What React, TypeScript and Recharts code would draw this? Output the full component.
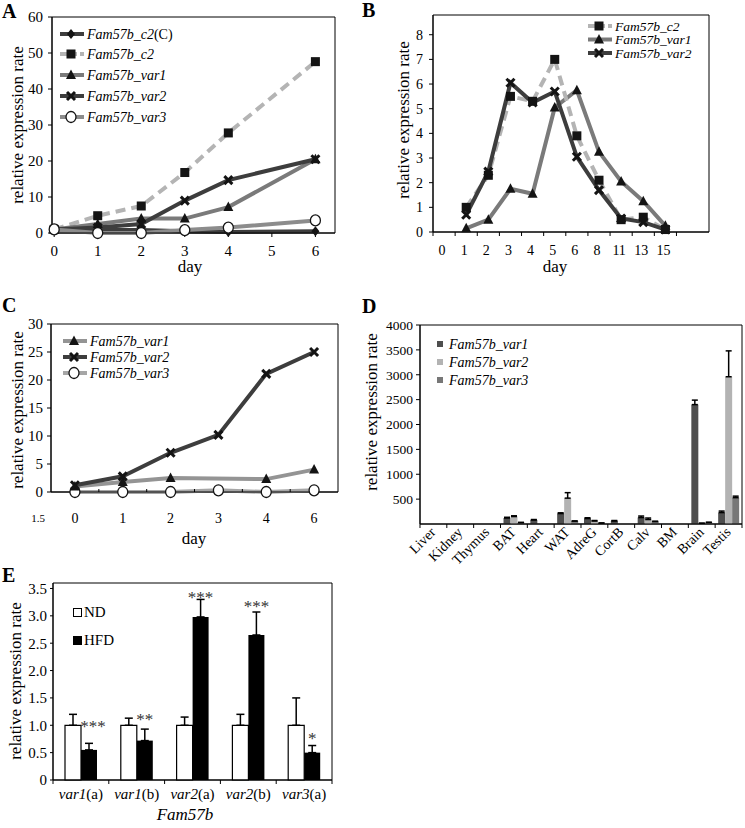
import React from "react";
import { LineChart, Line, BarChart, Bar, ErrorBar, LabelList, XAxis, YAxis, ReferenceArea } from "recharts";

const FONT = "'Liberation Serif', 'Times New Roman', serif";

// ---- panel A: time course, days 0..6
const aDays = [0, 1, 2, 3, 4, 6];
const aC2C = [1, 0.8, 0.8, 0.5, 0.3, 0.5];
const aC2 = [1, 4.8, 7.5, 16.8, 27.8, 47.6];
const aVar1 = [1, 2.5, 4, 4, 7.2, 20.5];
const aVar2 = [1, 1.5, 2.5, 9, 14.7, 20.5];
const aVar3 = [1, 0, 0, 0.8, 1.5, 3.5];

// ---- panel B: categorical days
const bDays = ["0", "1", "2", "3", "4", "5", "6", "8", "11", "13", "15"];
const bC2 = [null, 1.0, 2.3, 5.5, 5.3, 7.0, 3.9, 2.1, 0.5, 0.6, 0.1];
const bVar1 = [null, 0.15, 0.5, 1.75, 1.55, 5.05, 5.75, 3.25, 2.05, 1.25, 0.25];
const bVar2 = [null, 0.7, 2.45, 6.05, 5.25, 5.7, 3.05, 1.7, 0.55, 0.4, 0.1];

// ---- panel C
const cDays = ["0", "1", "2", "3", "4", "6"];
const cVar1 = [1.0, 1.8, 2.5, null, 2.3, 4.0];
const cVar2 = [1.2, 2.8, 7.0, 10.2, 21.1, 25.0];
const cVar3 = [0, 0, 0, 0.3, 0, 0.3];

// ---- panel D: tissues
const tissues = ["Liver", "Kidney", "Thymus", "BAT", "Heart", "WAT", "AdreG", "CortB", "Calv", "BM", "Brain", "Testis"];
const dVar1 = [0, 0, 0, 120, 80, 210, 110, 60, 130, 0, 2400, 230];
const dVar1Err = [0, 0, 0, 15, 10, 15, 15, 10, 30, 0, 90, 30];
const dVar2 = [0, 0, 0, 150, 0, 520, 60, 0, 90, 0, 15, 2960];
const dVar2Err = [0, 0, 0, 15, 0, 110, 10, 0, 30, 0, 0, 520];
const dVar3 = [0, 0, 0, 30, 0, 60, 20, 0, 50, 0, 30, 530];
const dVar3Err = [0, 0, 0, 0, 0, 0, 0, 0, 5, 0, 5, 30];

// ---- panel E: ND vs HFD
const eGroups = ["var1(a)", "var1(b)", "var2(a)", "var2(b)", "var3(a)"];
const eND = [1, 1, 1, 1, 1];
const eNDErr = [0.2, 0.13, 0.15, 0.2, 0.5];
const eHFD = [0.55, 0.72, 2.98, 2.65, 0.5];
const eHFDErr = [0.12, 0.21, 0.32, 0.42, 0.13];
const eStars = ["***", "**", "***", "***", "*"];
const eStarLevel = [1.06, 1.19, 3.41, 3.25, 0.84];

const DARK = "#3d3d3d";
const MID = "#7a7a7a";
const LIGHT = "#b4b4b4";
const GREY3 = "#8c8c8c";
const MK = "#141414";

const tickStyle = { fill: "#000", fontSize: 14, fontFamily: FONT };
const serif = { fontFamily: FONT };

function marker(kind: string, cx: number, cy: number, key?: string) {
  switch (kind) {
    case "diamond":
      return <polygon key={key} points={`${cx},${cy - 5} ${cx + 4},${cy} ${cx},${cy + 5} ${cx - 4},${cy}`} fill={MK} />;
    case "square":
      return <rect key={key} x={cx - 4.5} y={cy - 4.5} width={9} height={9} fill={MK} />;
    case "triangle":
      return <polygon key={key} points={`${cx},${cy - 5.5} ${cx + 5},${cy + 4} ${cx - 5},${cy + 4}`} fill={MK} />;
    case "cross":
      return (
        <path key={key} d={`M${cx - 4},${cy - 4}L${cx + 4},${cy + 4}M${cx + 4},${cy - 4}L${cx - 4},${cy + 4}`} stroke={MK} strokeWidth={3} />
      );
    default:
      return <ellipse key={key} cx={cx} cy={cy} rx={5} ry={5.5} fill="#fff" stroke={MK} strokeWidth={1.3} />;
  }
}

const dotOf = (kind: string) => (p: any) => {
  if (p.cx == null || p.cy == null || p.value == null) return <g key={`e-${kind}-${p.index}`} />;
  return marker(kind, p.cx, p.cy, `${kind}-${p.index}`);
};

const dataA = aDays.map((d, i) => ({ day: d, c2c: aC2C[i], c2: aC2[i], var1: aVar1[i], var2: aVar2[i], var3: aVar3[i] }));
const dataB = bDays.map((d, i) => ({ i, c2: bC2[i], var1: bVar1[i], var2: bVar2[i] }));
const dataC = cDays.map((d, i) => ({ i, var1: cVar1[i], var2: cVar2[i], var3: cVar3[i] }));
const dataD = tissues.map((t, i) => ({
  t,
  var1: dVar1[i], e1: [0, dVar1Err[i]],
  var2: dVar2[i], e2: [0, dVar2Err[i]],
  var3: dVar3[i], e3: [0, dVar3Err[i]],
}));
const dataE = eGroups.map((g, i) => ({ g, nd: eND[i], ndErr: [0, eNDErr[i]], hfd: eHFD[i], hfdErr: [0, eHFDErr[i]], stars: eStars[i] }));

// closes the plot box (x unset -> full width)
const frame = (top: number) => (
  <ReferenceArea y1={0} y2={top} fill="none" stroke="#000" strokeWidth={1} fillOpacity={0} ifOverflow="visible" />
);

const B_UNIT = 276 / 12.47;
const C_UNIT = 287.3 / 6;
const D_BAND = 322.3 / 12;
const E_BAND = 279 / 5;

const BTick = (p: any) => {
  const i = p.payload.value;
  const ay = p.y - 13;
  const bx = p.x - B_UNIT / 2;
  return (
    <g key={`bt-${i}`}>
      <line x1={bx} x2={bx} y1={ay} y2={ay + 4} stroke="#000" />
      {i < bDays.length && (
        <text x={p.x - 2} y={ay + 13} dy="0.71em" textAnchor="middle" {...tickStyle}>
          {bDays[i]}
        </text>
      )}
    </g>
  );
};

const CTick = (p: any) => {
  const i = p.payload.value;
  const ay = p.y - 21;
  const bx = p.x + C_UNIT / 2;
  return (
    <g key={`ct-${i}`}>
      {i < cDays.length - 1 && <line x1={bx} x2={bx} y1={ay} y2={ay - 3} stroke="#000" />}
      <text x={p.x} y={ay + 21} dy="0.71em" textAnchor="middle" {...tickStyle}>
        {cDays[i]}
      </text>
    </g>
  );
};

const DTick = (p: any) => {
  const ay = p.y - 2;
  const idx = tissues.indexOf(p.payload.value);
  const bx = p.x - D_BAND / 2;
  return (
    <g key={`dt-${p.payload.value}`}>
      <line x1={bx} x2={bx} y1={ay} y2={ay + 4} stroke="#000" />
      {idx === tissues.length - 1 && <line x1={p.x + D_BAND / 2} x2={p.x + D_BAND / 2} y1={ay} y2={ay + 4} stroke="#000" />}
      <text x={p.x + 3} y={ay + 9} textAnchor="end" transform={`rotate(-45 ${p.x + 3} ${ay + 9})`} fill="#000" fontSize={14} style={serif}>
        {p.payload.value}
      </text>
    </g>
  );
};

const ETick = (p: any) => {
  const v: string = p.payload.value;
  const ay = p.y - 2;
  const k = v.indexOf("(");
  const bx = p.x - E_BAND / 2;
  const last = v === eGroups[eGroups.length - 1];
  return (
    <g key={`et-${v}`}>
      <line x1={bx} x2={bx} y1={ay} y2={ay + 4} stroke="#000" />
      {last && <line x1={p.x + E_BAND / 2} x2={p.x + E_BAND / 2} y1={ay} y2={ay + 4} stroke="#000" />}
      <text x={p.x} y={ay + 8} dy="0.71em" textAnchor="middle" fill="#000" fontSize={15} style={serif}>
        <tspan fontStyle="italic">{v.slice(0, k)}</tspan>
        <tspan>{v.slice(k)}</tspan>
      </text>
    </g>
  );
};

const StarLabel = (p: any) => {
  const i = p.index;
  if (i == null) return null;
  const per = p.height / eHFD[i];
  const base = p.y + p.height;
  const sy = base - eStarLevel[i] * per;
  return (
    <text key={`st-${i}`} x={p.x + p.width / 2 + (i === 0 ? 4 : 0)} y={sy + 10} textAnchor="middle" fill="#333" fontSize={17} style={serif}>
      {eStars[i]}
    </text>
  );
};

function LineKey({ x, y, color, dashed, kind, children, size = 14 }: any) {
  return (
    <g>
      <line x1={x} x2={x + 24} y1={y} y2={y} stroke={color} strokeWidth={4} strokeDasharray={dashed ? "7 3" : undefined} />
      {marker(kind, x + 11, y)}
      <text x={x + 27} y={y} dy="0.35em" fontSize={size} fontStyle="italic" fill="#000" style={serif}>
        {children}
      </text>
    </g>
  );
}

const abs = (left: number, top: number): React.CSSProperties => ({ position: "absolute", left, top });

export default function App() {
  return (
    <div style={{ position: "absolute", left: 0, top: 0, width: 745, height: 828, background: "#fff", fontFamily: FONT }}>
      {/* A */}
      <div style={abs(0, 0)}>
        <LineChart width={370} height={280} data={dataA} margin={{ top: 17, right: 35, bottom: 0, left: 0 }}>
          <XAxis dataKey="day" type="number" domain={[-0.05, 6.45]} ticks={[0, 1, 2, 3, 4, 5, 6]} interval={0} height={47} tickSize={4} tickMargin={8} stroke="#000" tick={{ ...tickStyle, fontSize: 15 }} />
          <YAxis domain={[0, 60]} ticks={[0, 10, 20, 30, 40, 50, 60]} width={52} tickSize={4} tickMargin={5} stroke="#000" tick={{ ...tickStyle, fontSize: 15 }} />
          {frame(60)}
          <Line dataKey="c2" stroke={LIGHT} strokeWidth={4} strokeDasharray="10 6" dot={dotOf("square")} isAnimationActive={false} />
          <Line dataKey="var1" stroke={MID} strokeWidth={4} dot={dotOf("triangle")} isAnimationActive={false} />
          <Line dataKey="var2" stroke={DARK} strokeWidth={4} dot={dotOf("cross")} isAnimationActive={false} />
          <Line dataKey="c2c" stroke={DARK} strokeWidth={4} dot={dotOf("diamond")} isAnimationActive={false} />
          <Line dataKey="var3" stroke={GREY3} strokeWidth={4} dot={dotOf("circle")} isAnimationActive={false} />
        </LineChart>
      </div>

      {/* B */}
      <div style={abs(370, 0)}>
        <LineChart width={375} height={280} data={dataB} margin={{ top: 15, right: 36, bottom: 0, left: 0 }}>
          <XAxis dataKey="i" type="number" domain={[-0.5, 11.97]} ticks={[0, 1, 2, 3, 4, 5, 6, 7, 8, 9, 10, 11]} interval={0} height={48} tickSize={0} tickMargin={13} stroke="#000" tick={BTick} />
          <YAxis domain={[0, 8.8]} ticks={[0, 1, 2, 3, 4, 5, 6, 7, 8]} width={63} tickSize={4} tickMargin={6} stroke="#000" tick={tickStyle} />
          {frame(8.8)}
          <Line dataKey="var1" stroke={MID} strokeWidth={4} dot={dotOf("triangle")} isAnimationActive={false} />
          <Line dataKey="c2" stroke={LIGHT} strokeWidth={4} strokeDasharray="10 6" dot={dotOf("square")} isAnimationActive={false} />
          <Line dataKey="var2" stroke={DARK} strokeWidth={4} dot={dotOf("cross")} isAnimationActive={false} />
        </LineChart>
      </div>

      {/* C */}
      <div style={abs(0, 280)}>
        <LineChart width={370} height={270} data={dataC} margin={{ top: 44, right: 32, bottom: 0, left: 0 }}>
          <XAxis dataKey="i" type="number" domain={[-0.5, 5.5]} ticks={[0, 1, 2, 3, 4, 5]} interval={0} height={58} tickSize={0} tickMargin={21} stroke="#000" tick={CTick} />
          <YAxis domain={[0, 30]} ticks={[0, 5, 10, 15, 20, 25, 30]} width={51} tickSize={4} tickMargin={4} stroke="#000" tick={{ ...tickStyle, fontSize: 15 }} />
          {frame(30)}
          <Line dataKey="var3" stroke="#a6a6a6" strokeWidth={4} dot={dotOf("circle")} isAnimationActive={false} />
          <Line dataKey="var1" stroke="#949494" strokeWidth={4} connectNulls dot={dotOf("triangle")} isAnimationActive={false} />
          <Line dataKey="var2" stroke={DARK} strokeWidth={4} dot={dotOf("cross")} isAnimationActive={false} />
        </LineChart>
      </div>

      {/* D */}
      <div style={abs(370, 280)}>
        <BarChart width={375} height={300} data={dataD} margin={{ top: 45, right: 3, bottom: 0, left: 0 }} barGap={0}>
          <XAxis dataKey="t" interval={0} height={56} tickSize={0} tickMargin={2} stroke="#000" tick={DTick} />
          <YAxis domain={[0, 4000]} ticks={[500, 1000, 1500, 2000, 2500, 3000, 3500, 4000]} width={50} tickSize={4} tickMargin={3} stroke="#000" tick={{ ...tickStyle, fontSize: 13.5 }} />
          {frame(4000)}
          <Bar dataKey="var1" fill="#4e4e4e" barSize={7} isAnimationActive={false}>
            <ErrorBar dataKey="e1" width={3} stroke="#000" strokeWidth={1.5} />
          </Bar>
          <Bar dataKey="var2" fill="#b3b3b3" barSize={7} isAnimationActive={false}>
            <ErrorBar dataKey="e2" width={3} stroke="#000" strokeWidth={1.5} />
          </Bar>
          <Bar dataKey="var3" fill="#777777" barSize={7} isAnimationActive={false}>
            <ErrorBar dataKey="e3" width={3} stroke="#000" strokeWidth={1.5} />
          </Bar>
        </BarChart>
      </div>

      {/* E */}
      <div style={abs(0, 550)}>
        <BarChart width={370} height={278} data={dataE} margin={{ top: 33, right: 38, bottom: 0, left: 0 }} barGap={0}>
          <XAxis dataKey="g" interval={0} height={48} tickSize={0} tickMargin={2} stroke="#000" tick={ETick} />
          <YAxis domain={[0, 3.6]} ticks={[0, 0.5, 1, 1.5, 2, 2.5, 3, 3.5]} tickFormatter={(v: number) => (v === 0 ? "0" : v.toFixed(1))} width={53} tickSize={3} tickMargin={3} stroke="#000" tick={{ ...tickStyle, fontSize: 15 }} />
          {frame(3.6)}
          <Bar dataKey="nd" fill="#fff" stroke="#000" strokeWidth={1.2} barSize={16} isAnimationActive={false}>
            <ErrorBar dataKey="ndErr" width={4} stroke="#000" strokeWidth={1.5} />
          </Bar>
          <Bar dataKey="hfd" fill="#000" barSize={16} isAnimationActive={false}>
            <ErrorBar dataKey="hfdErr" width={4} stroke="#000" strokeWidth={1.5} />
            <LabelList dataKey="stars" content={StarLabel} />
          </Bar>
        </BarChart>
      </div>

      {/* titles, panel letters and legends */}
      <svg width={745} height={828} style={{ position: "absolute", left: 0, top: 0, pointerEvents: "none", fontFamily: FONT }}>
        <g fontWeight="bold" fontSize={20} fill="#000" style={serif}>
          <text x={2} y={18}>A</text>
          <text x={362} y={17}>B</text>
          <text x={2} y={312}>C</text>
          <text x={362} y={313}>D</text>
          <text x={2} y={582}>E</text>
        </g>
        <g fontSize={17} fill="#000" textAnchor="middle" style={serif}>
          <text transform="translate(17 125) rotate(-90)" dominantBaseline="central">relative expression rate</text>
          <text transform="translate(403 120) rotate(-90)" dominantBaseline="central">relative expression rate</text>
          <text transform="translate(17 410) rotate(-90)" dominantBaseline="central">relative expression rate</text>
          <text transform="translate(371 412) rotate(-90)" dominantBaseline="central">relative expression rate</text>
          <text transform="translate(15 681) rotate(-90)" dominantBaseline="central">relative expression rate</text>
          <text x={190} y={272}>day</text>
          <text x={555} y={272}>day</text>
          <text x={194} y={544}>day</text>
          <text x={185} y={820} fontStyle="italic">Fam57b</text>
        </g>
        <text x={38} y={522} fontSize={11} textAnchor="middle" fill="#000" style={serif}>1.5</text>

        {/* A legend */}
        <LineKey x={60} y={34} color={DARK} kind="diamond">
          <tspan>Fam57b_c2</tspan>
          <tspan fontStyle="normal">(C)</tspan>
        </LineKey>
        <LineKey x={60} y={54} color={LIGHT} dashed kind="square">Fam57b_c2</LineKey>
        <LineKey x={60} y={75} color={MID} kind="triangle">Fam57b_var1</LineKey>
        <LineKey x={60} y={96} color={DARK} kind="cross">Fam57b_var2</LineKey>
        <LineKey x={60} y={117} color={GREY3} kind="circle">Fam57b_var3</LineKey>

        {/* B legend */}
        <LineKey x={588} y={26} color={LIGHT} dashed kind="square" size={13.5}>Fam57b_c2</LineKey>
        <LineKey x={588} y={39.5} color={MID} kind="triangle" size={13.5}>Fam57b_var1</LineKey>
        <LineKey x={588} y={53} color={DARK} kind="cross" size={13.5}>Fam57b_var2</LineKey>

        {/* C legend */}
        <LineKey x={63} y={341} color="#949494" kind="triangle">Fam57b_var1</LineKey>
        <LineKey x={63} y={357} color={DARK} kind="cross">Fam57b_var2</LineKey>
        <LineKey x={63} y={373} color="#a6a6a6" kind="circle">Fam57b_var3</LineKey>

        {/* D legend */}
        <g fontSize={14} fontStyle="italic" fill="#000" style={serif}>
          <rect x={437} y={341} width={6} height={6} fill="#4e4e4e" />
          <text x={449} y={349}>Fam57b_var1</text>
          <rect x={437} y={359} width={6} height={6} fill="#b3b3b3" />
          <text x={449} y={367}>Fam57b_var2</text>
          <rect x={437} y={377} width={6} height={6} fill="#777777" />
          <text x={449} y={385}>Fam57b_var3</text>
        </g>

        {/* E legend */}
        <g fontSize={15} fill="#000" style={serif}>
          <rect x={73.5} y={608.5} width={8} height={8} fill="#fff" stroke="#000" />
          <text x={84} y={617}>ND</text>
          <rect x={73.5} y={636.5} width={8} height={8} fill="#000" stroke="#000" />
          <text x={84} y={645}>HFD</text>
        </g>
      </svg>
    </div>
  );
}
